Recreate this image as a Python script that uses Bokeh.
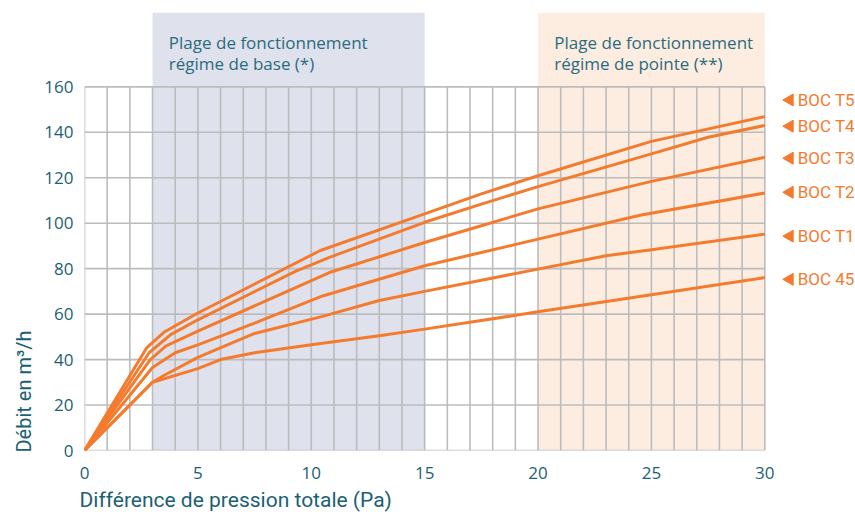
from bokeh.plotting import figure
from bokeh.models import Range1d, FixedTicker, Title
from bokeh.core.properties import value
from bokeh.embed import file_html
from bokeh.resources import INLINE

# ---------------- data ----------------
series_names = ["BOC T5", "BOC T4", "BOC T3", "BOC T2", "BOC T1", "BOC 45"]

pression_t5 = [0, 2.75, 3.5, 5, 10.4, 15, 17.5, 20, 25, 30]
debit_t5 = [0, 45.3, 52.0, 60.5, 88.0, 104.1, 112.9, 120.9, 136.0, 146.9]

pression_t4 = [0, 2.85, 3.8, 5, 9.3, 10.8, 15, 17.5, 20, 25, 27.5, 30]
debit_t4 = [0, 43.0, 51.0, 57.5, 78.8, 85.0, 100.4, 108.4, 116.1, 130.5, 137.8, 143.0]

pression_t3 = [0, 2.9, 3.6, 5, 10.8, 15, 17.5, 20, 25, 30]
debit_t3 = [0, 40.0, 46.0, 52.5, 78.3, 91.5, 98.9, 106.3, 118.4, 129.0]

pression_t2 = [0, 3.0, 4.0, 5, 7.5, 10.5, 15, 17.5, 20, 24.5, 30]
debit_t2 = [0, 36.5, 43.0, 46.5, 56.0, 68.0, 81.3, 87.1, 93.0, 103.5, 113.3]

pression_t1 = [0, 3.0, 3.5, 5, 7.5, 10.5, 13, 15, 20, 23, 25, 30]
debit_t1 = [0, 30.0, 33.0, 41.0, 51.5, 59.0, 66.0, 70.0, 79.8, 85.7, 88.3, 95.2]

pression_45 = [0, 3.0, 5, 6, 7.5, 10, 13, 15, 20, 25, 30]
debit_45 = [0, 30.0, 36.0, 40.0, 43.0, 46.5, 50.5, 53.4, 61.0, 68.5, 76.1]

x_ticks = [0, 5, 10, 15, 20, 25, 30]
y_ticks = [0, 20, 40, 60, 80, 100, 120, 140, 160]
x_grid = list(range(0, 31))

band_start = [3, 20]
band_end = [15, 30]
band_line1 = ["Plage de fonctionnement", "Plage de fonctionnement"]
band_line2 = ["régime de base (*)", "régime de pointe (**)"]

x_title = "Différence de pression totale (Pa)"
y_title = "Débit en m³/h"

# ---------------- style ----------------
ORANGE = "#f47b2e"
TEAL = "#1b5f74"
TEAL_TXT = "#2b6b7e"
GRID = "#bcbcbc"
X_MAX, Y_MAX = 30, 160
BAND_TOP = 192.7
X_END = 34.0
label_nudge = [7.3, -0.3, -0.4, 0.3, -0.9, -0.8]
TITLE_FONT = "Roboto"

p = figure(width=855, height=517, x_range=Range1d(0, X_END), y_range=Range1d(0, BAND_TOP),
           output_backend="svg", toolbar_location=None,
           min_border_left=84, min_border_right=0, min_border_top=12, min_border_bottom=67)
p.outline_line_color = None
p.xgrid.visible = False
p.ygrid.visible = False

# bands
p.quad(left=band_start, right=band_end, bottom=0, top=BAND_TOP,
       fill_color=["#dfe1ec", "#fdede1"], line_color=None)

# grid
p.segment(x0=x_grid, y0=[0] * len(x_grid), x1=x_grid, y1=[Y_MAX] * len(x_grid),
          line_color=GRID, line_width=1.6)
p.segment(x0=[0] * len(y_ticks), y0=y_ticks, x1=[X_MAX] * len(y_ticks), y1=y_ticks,
          line_color=GRID, line_width=1.6)

# band labels
p.text(x=[s + 0.72 for s in band_start], y=[179.6] * 2, text=band_line1,
       text_font=value("Open Sans"), text_font_size="17px", text_color=TEAL_TXT,
       text_baseline="alphabetic", text_align="left")
p.text(x=[s + 0.72 for s in band_start], y=[170.1] * 2, text=band_line2,
       text_font=value("Open Sans"), text_font_size="17px", text_color=TEAL_TXT,
       text_baseline="alphabetic", text_align="left")

# curves
xs = [pression_t5, pression_t4, pression_t3, pression_t2, pression_t1, pression_45]
ys = [debit_t5, debit_t4, debit_t3, debit_t2, debit_t1, debit_45]
for xv, yv in zip(xs, ys):
    p.line(xv, yv, line_color=ORANGE, line_width=3, line_join="round")

# right labels
end_vals = [yv[-1] for yv in ys]
lab_y = [v + n for v, n in zip(end_vals, label_nudge)]
p.scatter(x=[31.1] * len(lab_y), y=lab_y, marker="triangle", angle=1.5708, size=12,
          fill_color=ORANGE, line_color=ORANGE)
p.text(x=[31.45] * len(lab_y), y=lab_y, text=series_names,
       text_font=value(TITLE_FONT), text_font_size="17px", text_color=ORANGE,
       text_baseline="middle", text_align="left")

# tick axes
for ax in (p.xaxis[0], p.yaxis[0]):
    ax.axis_line_color = None
    ax.major_tick_line_color = None
    ax.minor_tick_line_color = None
    ax.major_tick_out = 0
    ax.major_tick_in = 0
    ax.major_label_text_font = "Open Sans"
    ax.major_label_text_font_size = "17px"
    ax.major_label_text_color = TEAL

p.xaxis[0].ticker = FixedTicker(ticks=x_ticks)
p.yaxis[0].ticker = FixedTicker(ticks=y_ticks)
p.xaxis[0].major_label_standoff = 16
p.yaxis[0].major_label_standoff = 11

# axis titles, left aligned along their side
xt = Title(text=x_title, align="left", offset=-5, standoff=8,
           text_font=TITLE_FONT, text_font_size="21px", text_font_style="normal",
           text_color=TEAL)
yt = Title(text=y_title, align="left", offset=-2, standoff=12,
           text_font=TITLE_FONT, text_font_size="20px", text_font_style="normal",
           text_color=TEAL)
p.add_layout(xt, "below")
p.add_layout(yt, "left")

open("out.html", "w").write(file_html(p, INLINE))
